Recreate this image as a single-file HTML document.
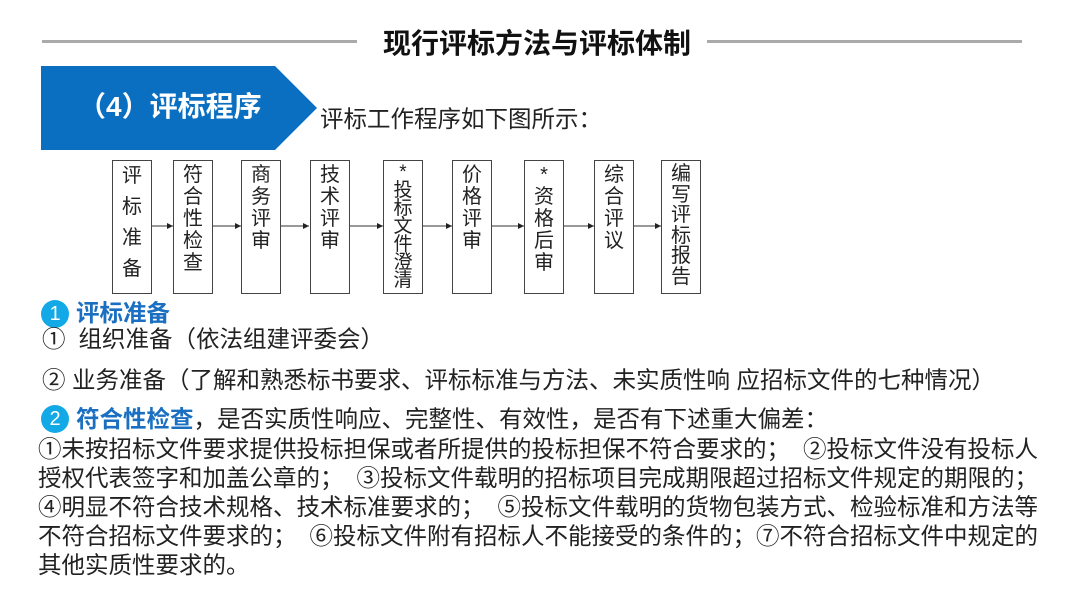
<!DOCTYPE html>
<html><head><meta charset="utf-8"><style>
body{margin:0;width:1080px;height:597px;background:#fff;position:relative;overflow:hidden;font-family:"Liberation Sans","Noto Sans CJK SC",sans-serif;color:#222}
.a{position:absolute;white-space:nowrap;line-height:1}
.box{position:absolute;top:160px;height:134px;width:40px;border:1px solid #444;box-sizing:border-box;font-size:20px;line-height:22px;text-align:center;padding-top:3px;color:#222}
.t{font-size:23.5px}
.c{position:absolute;width:28px;height:28px;border-radius:50%;background:#12a9e6;color:#fff;font-size:20px;text-align:center;line-height:28px}
.b{color:#1a6fc1;font-weight:bold}
</style></head><body>
<div class="a" style="left:42px;top:40px;width:315px;height:3px;background:#aaa"></div>
<div class="a" style="left:707px;top:40px;width:315px;height:3px;background:#aaa"></div>
<div class="a" style="left:383px;top:30px;font-size:28px;font-weight:bold;color:#111">现行评标方法与评标体制</div>
<svg class="a" style="left:0;top:0" width="330" height="160"><polygon points="41,66 275,66 317,108 275,150 41,150" fill="#0b6fc1"/></svg>
<div class="a" style="left:78px;top:93px;font-size:28px;font-weight:bold;color:#fff">（4）评标程序</div>
<div class="a t" style="left:320px;top:108px;">评标工作程序如下图所示：</div>
<svg class="a" style="left:0;top:0" width="720" height="300">
<defs><marker id="m" markerWidth="6" markerHeight="6" refX="6" refY="3" orient="auto"><path d="M0,0L6,3L0,6z" fill="#222"/></marker></defs>
<g stroke="#333" stroke-width="1" marker-end="url(#m)">
<line x1="152" y1="226" x2="173" y2="226"/><line x1="213" y1="226" x2="241" y2="226"/><line x1="281" y1="226" x2="309" y2="226"/><line x1="350" y1="226" x2="383" y2="226"/><line x1="423" y1="226" x2="452" y2="226"/><line x1="492" y1="226" x2="524" y2="226"/><line x1="564" y1="226" x2="594" y2="226"/><line x1="634" y1="226" x2="661" y2="226"/></g></svg>
<div class="box" style="left:112px;line-height:31px;padding-top:0">评<br>标<br>准<br>备</div>
<div class="box" style="left:173px">符<br>合<br>性<br>检<br>查</div>
<div class="box" style="left:241px">商<br>务<br>评<br>审</div>
<div class="box" style="left:310px">技<br>术<br>评<br>审</div>
<div class="box" style="left:383px;line-height:18px;font-size:19px">*<br>投<br>标<br>文<br>件<br>澄<br>清</div>
<div class="box" style="left:452px">价<br>格<br>评<br>审</div>
<div class="box" style="left:524px">*<br>资<br>格<br>后<br>审</div>
<div class="box" style="left:594px">综<br>合<br>评<br>议</div>
<div class="box" style="left:661px;line-height:20.5px">编<br>写<br>评<br>标<br>报<br>告</div>
<div class="c" style="left:41px;top:300px">1</div>
<div class="a t b" style="left:76px;top:302px">评标准备</div>
<div class="a t" style="left:42px;top:328px">①&nbsp; 组织准备（依法组建评委会）</div>
<div class="a t" style="left:42px;top:369px">② 业务准备（了解和熟悉标书要求、评标标准与方法、未实质性响 应招标文件的七种情况）</div>
<div class="c" style="left:41px;top:405px">2</div>
<div class="a t" style="left:76px;top:408px"><span class="b">符合性检查</span>，是否实质性响应、完整性、有效性，是否有下述重大偏差：</div>
<div class="a t" style="left:38px;top:438px">①未按招标文件要求提供投标担保或者所提供的投标担保不符合要求的；&nbsp; ②投标文件没有投标人</div>
<div class="a t" style="left:38px;top:467px">授权代表签字和加盖公章的；&nbsp; ③投标文件载明的招标项目完成期限超过招标文件规定的期限的；</div>
<div class="a t" style="left:38px;top:496px">④明显不符合技术规格、技术标准要求的；&nbsp; ⑤投标文件载明的货物包装方式、检验标准和方法等</div>
<div class="a t" style="left:38px;top:525px">不符合招标文件要求的；&nbsp; ⑥投标文件附有招标人不能接受的条件的；⑦不符合招标文件中规定的</div>
<div class="a t" style="left:38px;top:554px">其他实质性要求的。</div>
</body></html>
